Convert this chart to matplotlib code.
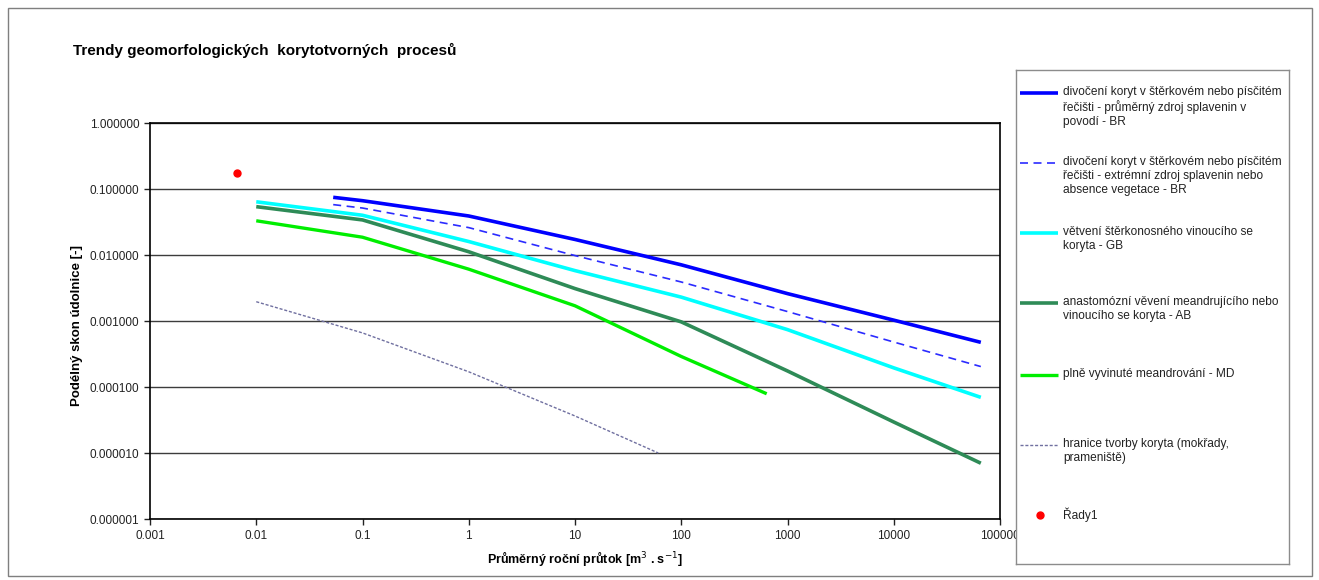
import matplotlib.pyplot as plt
import matplotlib as mpl
from matplotlib.patches import Rectangle
from matplotlib.lines import Line2D

mpl.rcParams["font.family"] = ["Liberation Sans", "DejaVu Sans"]

# ── data ──────────────────────────────────────────────
q_br = [0.053, 0.1, 1, 10, 100, 1000, 10000, 66000]
s_br_mean = [0.0748, 0.0665, 0.039, 0.0172, 0.0071, 0.0026, 0.00103, 0.000475]
s_br_extr = [0.058, 0.0515, 0.026, 0.0098, 0.0039, 0.00139, 0.00048, 0.000204]

q_gb = [0.01, 0.1, 1, 10, 100, 1000, 10000, 66000]
s_gb = [0.064, 0.040, 0.016, 0.0058, 0.0023, 0.00074, 0.000195, 0.0000697]

q_ab = [0.01, 0.1, 1, 10, 100, 1000, 10000, 66000]
s_ab = [0.054, 0.034, 0.0112, 0.0031, 0.00097, 0.000175, 0.0000295, 0.0000070]

q_md = [0.01, 0.1, 1, 10, 100, 637]
s_md = [0.033, 0.0186, 0.0061, 0.0017, 0.00029, 0.000079]

q_hr = [0.01, 0.1, 1, 10, 60.8]
s_hr = [0.00196, 0.00066, 0.00017, 0.0000364, 0.00001]

q_pt = [0.0066]
s_pt = [0.175]

x_ticks = [0.001, 0.01, 0.1, 1, 10, 100, 1000, 10000, 100000]
x_labels = ["0.001", "0.01", "0.1", "1", "10", "100", "1000", "10000", "100000"]
y_ticks = [1e-6, 1e-5, 1e-4, 1e-3, 1e-2, 1e-1, 1]
y_labels = ["0.000001", "0.000010", "0.000100", "0.001000", "0.010000", "0.100000", "1.000000"]

labels = [
    "divočení koryt v štěrkovém nebo písčitém\nřečišti - průměrný zdroj splavenin v\npovodí - BR",
    "divočení koryt v štěrkovém nebo písčitém\nřečišti - extrémní zdroj splavenin nebo\nabsence vegetace - BR",
    "větvení štěrkonosného vinoucího se\nkoryta - GB",
    "anastomózní věvení meandrujícího nebo\nvinoucího se koryta - AB",
    "plně vyvinuté meandrování - MD",
    "hranice tvorby koryta (mokřady,\nprameniště)",
    "Řady1",
]

# ── styles ────────────────────────────────────────────
styles = [
    dict(color="#0000FF", lw=2.6, ls="-"),
    dict(color="#2B2BFF", lw=1.2, ls=(0, (4.8, 3.3))),
    dict(color="#00FFFF", lw=2.6, ls="-"),
    dict(color="#2E8B57", lw=2.6, ls="-"),
    dict(color="#00EE00", lw=2.4, ls="-"),
    dict(color="#7070A0", lw=1.0, ls=(0, (2.2, 1.3))),
]

W, H = 1319, 580
fig = plt.figure(figsize=(W / 100, H / 100), dpi=100)

# outer frame
fig.add_artist(Rectangle((8 / W, 1 - 576 / H), 1304 / W, 568 / H, transform=fig.transFigure,
                         fill=False, ec="#7f7f7f", lw=1))

ax = fig.add_axes([150 / W, 1 - 519 / H, 850 / W, 396 / H])
series = [(q_br, s_br_mean), (q_br, s_br_extr), (q_gb, s_gb), (q_ab, s_ab), (q_md, s_md), (q_hr, s_hr)]
for (q, s), st in zip(series, styles):
    ax.plot(q, s, color=st["color"], lw=st["lw"], ls=st["ls"], solid_capstyle="butt",
            solid_joinstyle="round", zorder=3)
ax.plot(q_pt, s_pt, "o", color="#FF0000", ms=5, zorder=4)

ax.set_xscale("log")
ax.set_yscale("log")
ax.set_xlim(0.001, 100000)
ax.set_ylim(1e-6, 1)
ax.set_xticks(x_ticks)
ax.set_xticklabels(x_labels)
ax.set_yticks(y_ticks)
ax.set_yticklabels(y_labels)
ax.minorticks_off()
ax.tick_params(axis="both", direction="out", length=4, width=1, labelsize=8.5, colors="#222222")
ax.tick_params(axis="x", pad=4)
ax.grid(axis="y", color="#3c3c3c", lw=1)
ax.set_axisbelow(True)
for sp in ax.spines.values():
    sp.set_color("black")
    sp.set_linewidth(1.2)

fig.text(73 / W, 1 - 50 / H, "Trendy geomorfologických  korytotvorných  procesů",
         fontsize=11, fontweight="bold", va="center", ha="left")
fig.text(77 / W, 1 - 325 / H, "Podélný skon údolnice [-]", rotation=90,
         fontsize=9.5, fontweight="bold", va="center", ha="center")
fig.text(585 / W, 1 - 558 / H, "Průměrný roční průtok [m$^3$ . s$^{-1}$]",
         fontsize=9, fontweight="bold", va="center", ha="center")

# ── legend box ────────────────────────────────────────
lax = fig.add_axes([1016 / W, 1 - 564 / H, 273 / W, 494 / H], zorder=5)
lax.set_facecolor("white")
lax.set_xlim(0, 273)
lax.set_ylim(494, 0)
lax.set_xticks([])
lax.set_yticks([])
for sp in lax.spines.values():
    sp.set_color("#8c8c8c")
    sp.set_linewidth(1)

entry_y = [23, 93, 163, 233, 305, 375, 445]
for i, (lab, yy) in enumerate(zip(labels, entry_y)):
    if i < len(styles):
        st = styles[i]
        lax.add_line(Line2D([4, 42], [yy, yy], color=st["color"], lw=st["lw"], ls=st["ls"],
                            solid_capstyle="butt"))
    else:
        lax.plot([24], [yy], "o", color="#FF0000", ms=5)
    lax.text(47, yy - 7, lab, fontsize=8.6, va="top", ha="left", linespacing=1.22, color="#222222")

fig.savefig("out.png", dpi=100)
